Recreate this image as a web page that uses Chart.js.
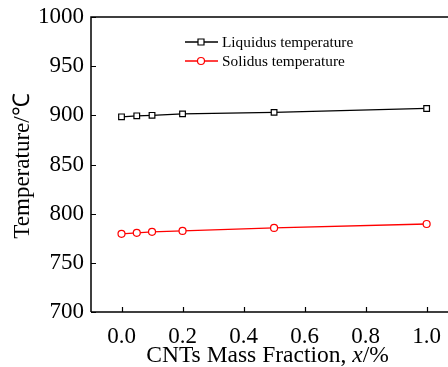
<!DOCTYPE html>
<html>
<head>
    <title>Liquidus / Solidus</title>
    <meta charset="utf-8">
    <script src="https://cdn.jsdelivr.net/npm/chart.js@4.4.0/dist/chart.umd.min.js"></script>
    <style>
        html, body { margin: 0; padding: 0; background: #fff; overflow: hidden; }
        .wrap { width: 448px; height: 367px; position: relative; }
    </style>
</head>
<body>
<div class="wrap"><canvas id="myChart" width="448" height="367"></canvas></div>
<script>
    // data
    var fraction = [0, 0.05, 0.1, 0.2, 0.5, 1.0];
    var liquidus = [898.5, 899.5, 900, 901.5, 903, 907];
    var solidus  = [779.5, 780.5, 781.5, 782.5, 785.5, 789.5];
    var xTicks = [0, 0.2, 0.4, 0.6, 0.8, 1.0];
    var yTicks = [700, 750, 800, 850, 900, 950, 1000];

    var serif = '"Liberation Serif", "Times New Roman", serif';

    function pts(ys) {
        return fraction.map(function (x, i) { return { x: x, y: ys[i] }; });
    }

    // frame, inward ticks, axis titles and legend
    var decor = {
        id: 'decor',
        afterDraw: function (chart) {
            var ctx = chart.ctx, a = chart.chartArea;
            var xs = chart.scales.x, ys = chart.scales.y;
            ctx.save();
            ctx.strokeStyle = '#000';
            ctx.lineWidth = 1.5;
            ctx.beginPath();
            ctx.moveTo(a.left, a.bottom); ctx.lineTo(a.left, a.top); ctx.lineTo(448, a.top);
            ctx.moveTo(a.left, a.bottom); ctx.lineTo(448, a.bottom);
            ctx.stroke();
            ctx.lineWidth = 1.2;
            ctx.beginPath();
            xTicks.forEach(function (v) {
                var p = Math.round(xs.getPixelForValue(v)) + 0.5;
                ctx.moveTo(p, a.bottom); ctx.lineTo(p, a.bottom - 5);
            });
            yTicks.forEach(function (v) {
                var p = Math.round(ys.getPixelForValue(v)) + 0.5;
                ctx.moveTo(a.left, p); ctx.lineTo(a.left + 5, p);
            });
            ctx.stroke();

            // x title with italic x
            ctx.fillStyle = '#000';
            ctx.textBaseline = 'middle';
            var fs = '23.5px ', p1 = 'CNTs Mass Fraction, ', p2 = 'x', p3 = '/%';
            ctx.font = fs + serif;
            var w1 = ctx.measureText(p1).width, w3 = ctx.measureText(p3).width;
            ctx.font = 'italic ' + fs + serif;
            var w2 = ctx.measureText(p2).width;
            var sx = 267.5 - (w1 + w2 + w3) / 2, ty = 356;
            ctx.textAlign = 'left';
            ctx.font = fs + serif;
            ctx.fillText(p1, sx, ty);
            ctx.font = 'italic ' + fs + serif;
            ctx.fillText(p2, sx + w1, ty);
            ctx.font = fs + serif;
            ctx.fillText(p3, sx + w1 + w2, ty);

            // y title
            ctx.save();
            ctx.translate(23, 166);
            ctx.rotate(-Math.PI / 2);
            ctx.textAlign = 'center';
            ctx.font = '23px ' + serif;
            ctx.fillText('Temperature/\u2103', 0, 0);
            ctx.restore();

            // legend
            ctx.font = '15.3px ' + serif;
            ctx.textAlign = 'left';
            chart.data.datasets.forEach(function (ds, i) {
                var ly = 42 + i * 19;
                ctx.strokeStyle = ds.borderColor;
                ctx.lineWidth = 1.5;
                ctx.beginPath();
                ctx.moveTo(185, ly); ctx.lineTo(218, ly);
                ctx.stroke();
                ctx.fillStyle = '#fff';
                ctx.lineWidth = 1.2;
                ctx.beginPath();
                if (ds.pointStyle === 'rect') {
                    ctx.rect(198, ly - 3, 6, 6);
                } else {
                    ctx.arc(201, ly, 3.5, 0, Math.PI * 2);
                }
                ctx.fill(); ctx.stroke();
                ctx.fillStyle = '#000';
                ctx.fillText(ds.label, 222, ly + 1);
            });
            ctx.restore();
        }
    };

    var myChart = new Chart(document.getElementById('myChart'), {
        type: 'line',
        data: {
            datasets: [{
                label: 'Liquidus temperature',
                data: pts(liquidus),
                borderColor: '#000',
                backgroundColor: '#fff',
                borderWidth: 1.3,
                pointStyle: 'rect',
                pointRadius: 4,
                pointBorderWidth: 1.2,
                pointBackgroundColor: '#fff'
            }, {
                label: 'Solidus temperature',
                data: pts(solidus),
                borderColor: '#ff0000',
                backgroundColor: '#fff',
                borderWidth: 1.3,
                pointStyle: 'circle',
                pointRadius: 3.5,
                pointBorderWidth: 1.2,
                pointBackgroundColor: '#fff'
            }]
        },
        options: {
            responsive: false,
            animation: false,
            layout: { autoPadding: false, padding: { top: 17, right: 0, left: 0, bottom: 0 } },
            plugins: { legend: { display: false }, tooltip: { enabled: false } },
            scales: {
                x: {
                    type: 'linear', min: -0.1, max: 1.07,
                    afterBuildTicks: function (s) { s.ticks = xTicks.map(function (v) { return { value: v }; }); },
                    afterFit: function (s) { s.height = 55; s.paddingLeft = 0; s.paddingRight = 0; },
                    grid: { display: false, drawTicks: false },
                    border: { display: false },
                    ticks: {
                        color: '#000', padding: 11, maxRotation: 0,
                        font: { family: serif, size: 23 },
                        callback: function (v) { return v.toFixed(1); }
                    }
                },
                y: {
                    min: 700, max: 1000,
                    afterBuildTicks: function (s) { s.ticks = yTicks.map(function (v) { return { value: v }; }); },
                    afterFit: function (s) { s.width = 91; s.paddingTop = 0; s.paddingBottom = 0; },
                    grid: { display: false, drawTicks: false },
                    border: { display: false },
                    ticks: {
                        color: '#000', padding: 7,
                        font: { family: serif, size: 23 },
                        callback: function (v) { return String(v); }
                    }
                }
            }
        },
        plugins: [decor]
    });
</script>
</body>
</html>
